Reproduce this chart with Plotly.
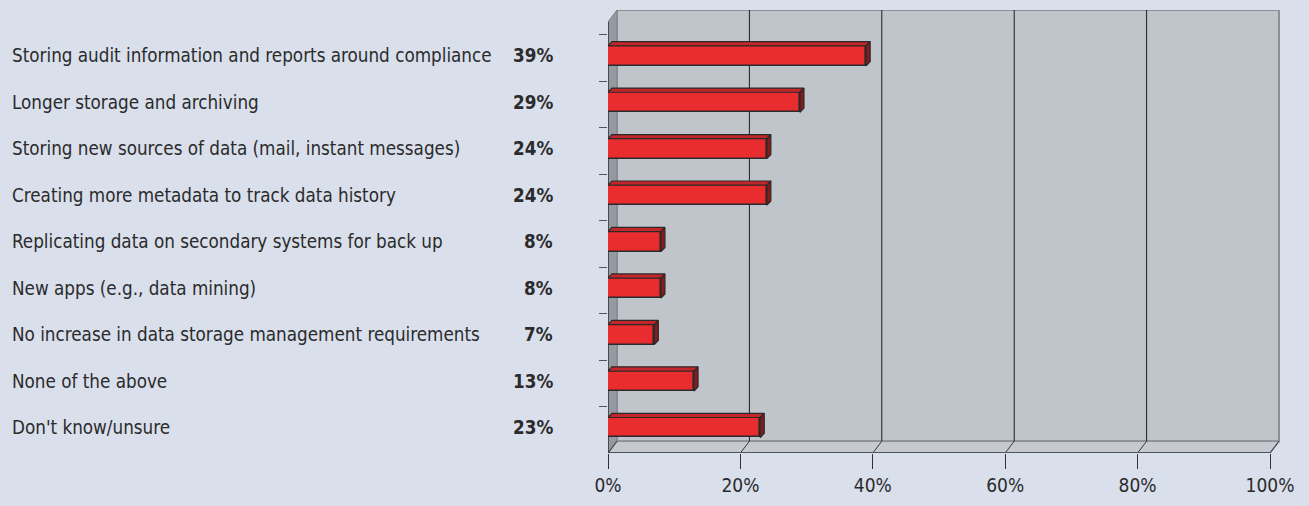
import plotly.graph_objects as go

# Survey responses (percent of respondents)
categories = [
    "Storing audit information and reports around compliance",
    "Longer storage and archiving",
    "Storing new sources of data (mail, instant messages)",
    "Creating more metadata to track data history",
    "Replicating data on secondary systems for back up",
    "New apps (e.g., data mining)",
    "No increase in data storage management requirements",
    "None of the above",
    "Don't know/unsure",
]
values = [39, 29, 24, 24, 8, 8, 7, 13, 23]
x_ticks = [0, 20, 40, 60, 80, 100]
x_tick_labels = ["0%", "20%", "40%", "60%", "80%", "100%"]

# Pseudo-3D geometry (in axis units)
WALL_DX, WALL_DY = 1.36, 0.254   # depth of the chart box
BAR_DX, BAR_DY = 0.6, 0.09       # depth of each bar
BAR_W = 0.43
Y_TOP, Y_BASE = -0.985, 8.549
X_MAX = 101.51

FONT = "Liberation Sans Narrow, DejaVu Sans Condensed, Arial Narrow, sans-serif"
BG = "#d9dfeb"
WALL = "#c0c4cb"
RED = "#e92d2f"
RED_TOP = "#c3262a"
RED_SIDE = "#861a1c"
EDGE = "#2a2a2a"
TEXT = "#2b2b2b"

n = len(categories)
ys = list(range(n))

fig = go.Figure()

# Front faces of the bars
fig.add_trace(go.Bar(
    x=values, y=ys, orientation="h", width=BAR_W,
    marker=dict(color=RED, line=dict(color=EDGE, width=1.6)),
    hoverinfo="skip", showlegend=False,
))

# Top and side faces of the bars
for v, y in zip(values, ys):
    t, b = y - BAR_W / 2, y + BAR_W / 2
    fig.add_trace(go.Scatter(
        x=[0, v, v + BAR_DX, BAR_DX, 0],
        y=[t, t, t - BAR_DY, t - BAR_DY, t],
        fill="toself", fillcolor=RED_TOP, mode="lines",
        line=dict(color=EDGE, width=1.2), hoverinfo="skip", showlegend=False,
    ))
    fig.add_trace(go.Scatter(
        x=[v, v + BAR_DX, v + BAR_DX, v, v],
        y=[t, t - BAR_DY, b - BAR_DY, b, t],
        fill="toself", fillcolor=RED_SIDE, mode="lines",
        line=dict(color=EDGE, width=1.2), hoverinfo="skip", showlegend=False,
    ))

shapes = []
back_bottom = Y_BASE - WALL_DY
# back wall
shapes.append(dict(type="rect", xref="x", yref="y", layer="below",
                   x0=WALL_DX, x1=100 + WALL_DX, y0=Y_TOP, y1=back_bottom,
                   fillcolor=WALL, line=dict(color="#8b8f96", width=2)))
# left wall
shapes.append(dict(type="path", xref="x", yref="y", layer="below",
                   path=f"M 0 {Y_TOP + WALL_DY} L {WALL_DX} {Y_TOP} L {WALL_DX} {back_bottom} L 0 {Y_BASE} Z",
                   fillcolor="#959aa2", line=dict(color="#80848b", width=1)))
# floor
shapes.append(dict(type="path", xref="x", yref="y", layer="below",
                   path=f"M 0 {Y_BASE} L {WALL_DX} {back_bottom} L {100 + WALL_DX} {back_bottom} L 100 {Y_BASE} Z",
                   fillcolor="#c6c9cf", line=dict(color="#8b8f96", width=1.5)))
# gridlines on back wall and floor
for t in x_ticks:
    if 0 < t < 100:
        shapes.append(dict(type="line", xref="x", yref="y", layer="below",
                           x0=t + WALL_DX, x1=t + WALL_DX, y0=Y_TOP, y1=back_bottom,
                           line=dict(color="#1e1e1e", width=1)))
    shapes.append(dict(type="line", xref="x", yref="y", layer="below",
                       x0=t + WALL_DX, x1=t, y0=back_bottom, y1=Y_BASE,
                       line=dict(color="#3a3a3a", width=1)))
# front edges of the box
shapes.append(dict(type="line", xref="x", yref="y", layer="below",
                   x0=0, x1=100, y0=Y_BASE, y1=Y_BASE,
                   line=dict(color="#4f535a", width=2)))
shapes.append(dict(type="line", xref="x", yref="y", layer="below",
                   x0=0, x1=0, y0=Y_TOP + WALL_DY, y1=Y_BASE,
                   line=dict(color="#333333", width=1.5)))

annotations = []
for c, v, y in zip(categories, values, ys):
    annotations.append(dict(text=c, x=-0.89, xref="paper", y=y, yref="y",
                            xanchor="left", yanchor="middle", showarrow=False,
                            font=dict(family=FONT, size=18.7, color=TEXT)))
    annotations.append(dict(text=f"<b>{v}%</b>", x=-0.079, xref="paper", y=y, yref="y",
                            xanchor="right", yanchor="middle", showarrow=False,
                            font=dict(family=FONT, size=18.7, color=TEXT)))

fig.update_layout(
    width=1309, height=506,
    margin=dict(l=608, r=29, t=10, b=46),
    paper_bgcolor=BG, plot_bgcolor=BG,
    shapes=shapes, annotations=annotations,
    bargap=0, showlegend=False,
    xaxis=dict(range=[0, X_MAX], tickvals=x_ticks, ticktext=x_tick_labels,
               showgrid=False, zeroline=False, showline=False,
               ticks="outside", ticklen=15, tickcolor="#333", tickwidth=1,
               tickfont=dict(family=FONT, size=19, color=TEXT)),
    yaxis=dict(range=[Y_BASE, Y_TOP], tickvals=[i - 0.45 for i in range(n + 1)],
               showticklabels=False, showgrid=False, zeroline=False, showline=False,
               ticks="outside", ticklen=8, tickcolor="#555", tickwidth=1),
)

fig.write_html("out.html")
